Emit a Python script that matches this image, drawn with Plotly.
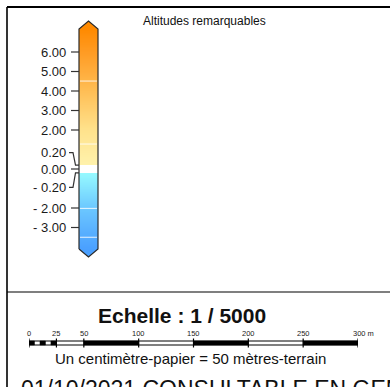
import numpy as np
import plotly.graph_objects as go

# ---------------- data ----------------
legend_title = "Altitudes remarquables"
tick_values = [6, 5, 4, 3, 2, 0.2, 0, -0.2, -2, -3]
tick_labels = ["6.00", "5.00", "4.00", "3.00", "2.00", "0.20", "0.00", "- 0.20", "- 2.00", "- 3.00"]
alt_min, alt_max = -4.1, 7.18
color_alts = [-4.1, -3, -2, -0.2, 0.2, 2, 4, 6, 7.18]
color_rgb = ["rgb(74,160,255)", "rgb(92,180,255)", "rgb(108,200,255)", "rgb(150,250,255)",
             "rgb(255,242,172)", "rgb(255,226,140)", "rgb(255,190,85)", "rgb(255,155,35)",
             "rgb(255,138,0)"]
stripe_alts = [4.51, 1.28, -2.02, -3.5]

scale_title = "Echelle : 1 / 5000"
scale_ticks = [0, 25, 50, 100, 150, 200, 250, 300]
scale_labels = ["0", "25", "50", "100", "150", "200", "250", "300 m"]
black_segments = [(0, 5), (10, 15), (20, 25), (50, 100), (150, 200), (250, 300)]
scale_note = "Un centimètre-papier = 50 mètres-terrain"
footer = "01/10/2021 CONSULTABLE EN GENDARMERIE"

# ---------------- layout helpers ----------------
W, H = 390, 387
FONT = "Liberation Sans, Arial, sans-serif"
PX_PER_UNIT = 19.5          # vertical scale of the altitude bar
Y_AT_6 = 52                 # pixel row of the 6.00 tick
def alt_of_px(py):
    return 6 - (py - Y_AT_6) / PX_PER_UNIT

bar_x0, bar_x1 = 79, 98
bar_xc = (bar_x0 + bar_x1) / 2
tip = 8 / PX_PER_UNIT
label_shift_px = {0.2: 12.5, -0.2: -14.5}

fig = go.Figure()

# colour bar (heatmap on altitude axis)
step = 0.02
edges = np.arange(alt_min, alt_max + step / 2, step)
centers = (edges[:-1] + edges[1:]) / 2
z = centers.reshape(-1, 1)
def norm(a):
    return (a - alt_min) / (alt_max - alt_min)
eps = 1e-6
cs = []
for a, c in zip(color_alts, color_rgb):
    if a == -0.2:
        cs.append([norm(a), c]); cs.append([norm(a) + eps, "rgb(255,255,255)"])
    elif a == 0.2:
        cs.append([norm(a) - eps, "rgb(255,255,255)"]); cs.append([norm(a), c])
    else:
        cs.append([norm(a), c])
cs[0][0] = 0.0
cs[-1][0] = 1.0
fig.add_trace(go.Heatmap(x=[bar_x0, bar_x1], y=edges, z=z, colorscale=cs,
                         zmin=alt_min, zmax=alt_max, showscale=False, zsmooth=False,
                         hoverinfo="skip", xaxis="x", yaxis="y2"))

# faint stripes
for a in stripe_alts:
    fig.add_trace(go.Scatter(x=[bar_x0 + 1, bar_x1 - 1], y=[a, a], mode="lines",
                             line=dict(color="rgba(255,255,255,0.85)", width=1),
                             hoverinfo="skip", showlegend=False, xaxis="x", yaxis="y2"))

# arrow tips
fig.add_trace(go.Scatter(x=[bar_x0, bar_xc, bar_x1, bar_x0], y=[alt_max, alt_max + tip, alt_max, alt_max],
                         fill="toself", fillcolor=color_rgb[-1], mode="lines",
                         line=dict(width=0), hoverinfo="skip", showlegend=False, xaxis="x", yaxis="y2"))
fig.add_trace(go.Scatter(x=[bar_x0, bar_xc, bar_x1, bar_x0], y=[alt_min, alt_min - tip, alt_min, alt_min],
                         fill="toself", fillcolor=color_rgb[0], mode="lines",
                         line=dict(width=0), hoverinfo="skip", showlegend=False, xaxis="x", yaxis="y2"))
# outline
fig.add_trace(go.Scatter(x=[bar_x0, bar_x0, bar_xc, bar_x1, bar_x1, bar_xc, bar_x0],
                         y=[alt_min, alt_max, alt_max + tip, alt_max, alt_min, alt_min - tip, alt_min],
                         mode="lines", line=dict(color="#2b2b2b", width=1.2),
                         hoverinfo="skip", showlegend=False, xaxis="x", yaxis="y2"))

# ticks, leader lines and labels
annotations = []
for v, lab in zip(tick_values, tick_labels):
    if v in label_shift_px:
        ly = v + label_shift_px[v] / PX_PER_UNIT
        xs = [69, 73, 75.5, bar_x0]
        ys = [ly, ly, v, v]
    else:
        ly = v
        xs = [71, bar_x0]
        ys = [v, v]
    fig.add_trace(go.Scatter(x=xs, y=ys, mode="lines", line=dict(color="#333333", width=1.2),
                             hoverinfo="skip", showlegend=False, xaxis="x", yaxis="y2"))
    annotations.append(dict(x=68, y=ly, xref="x", yref="y2", text=lab, showarrow=False,
                            xanchor="right", yanchor="middle",
                            font=dict(family=FONT, size=13, color="#1a1a1a")))

annotations.append(dict(x=204, y=21, xref="x", yref="y", text=legend_title, showarrow=False,
                        xanchor="center", yanchor="middle",
                        font=dict(family=FONT, size=12, color="#111111")))

# frame
shapes = [
    dict(type="line", xref="x", yref="y", x0=7, x1=7, y0=7, y1=H, line=dict(color="black", width=1.6)),
    dict(type="line", xref="x", yref="y", x0=7, x1=W, y0=7, y1=7, line=dict(color="black", width=2)),
    dict(type="line", xref="x", yref="y", x0=7, x1=W, y0=292, y1=292, line=dict(color="black", width=1.2)),
]

# scale bar
bar_top, bar_bot = 341, 345
shapes.append(dict(type="rect", xref="x3", yref="y", x0=scale_ticks[0], x1=scale_ticks[-1],
                   y0=bar_top, y1=bar_bot, fillcolor="white", line=dict(color="black", width=1)))
for a, b in black_segments:
    shapes.append(dict(type="rect", xref="x3", yref="y", x0=a, x1=b, y0=bar_top, y1=bar_bot,
                       fillcolor="black", line=dict(color="black", width=0.5)))
for t in scale_ticks:
    shapes.append(dict(type="line", xref="x3", yref="y", x0=t, x1=t, y0=bar_top - 2.5, y1=bar_bot + 2.5,
                       line=dict(color="black", width=1.2)))
for t, lab in zip(scale_ticks, scale_labels):
    if lab.endswith("m"):
        annotations.append(dict(x=t, y=333, xref="x3", yref="y", text=lab, showarrow=False,
                                xanchor="left", xshift=-7, yanchor="middle",
                                font=dict(family=FONT, size=7.5, color="#222222")))
    else:
        annotations.append(dict(x=t, y=333, xref="x3", yref="y", text=lab, showarrow=False,
                                xanchor="center", yanchor="middle",
                                font=dict(family=FONT, size=7.5, color="#222222")))

annotations.append(dict(x=182, y=315, xref="x", yref="y", text="<b>" + scale_title + "</b>",
                        showarrow=False, xanchor="center", yanchor="middle",
                        font=dict(family=FONT, size=21, color="#111111")))
annotations.append(dict(x=190, y=358, xref="x", yref="y", text=scale_note,
                        showarrow=False, xanchor="center", yanchor="middle",
                        font=dict(family=FONT, size=15, color="#111111")))
annotations.append(dict(x=19, y=374, xref="x", yref="y", text=footer,
                        showarrow=False, xanchor="left", yanchor="top",
                        font=dict(family=FONT, size=23, color="#111111")))

fig.update_layout(
    width=W, height=H, autosize=False,
    margin=dict(l=0, r=0, t=0, b=0, pad=0),
    paper_bgcolor="white", plot_bgcolor="rgba(0,0,0,0)",
    showlegend=False,
    xaxis=dict(range=[0, W], domain=[0, 1], anchor="y", visible=False, fixedrange=True),
    yaxis=dict(range=[H, 0], domain=[0, 1], anchor="x", visible=False, fixedrange=True),
    yaxis2=dict(range=[alt_of_px(H), alt_of_px(0)], domain=[0, 1], overlaying="y", anchor="x",
                visible=False, fixedrange=True),
    xaxis3=dict(range=[0, 300], domain=[29 / W, 358 / W], anchor="y", visible=False, fixedrange=True),
    shapes=shapes,
    annotations=annotations,
)

fig.write_html("out.html", config={"displayModeBar": False},
               post_script="document.body.style.margin='0';document.body.style.overflow='hidden';")
